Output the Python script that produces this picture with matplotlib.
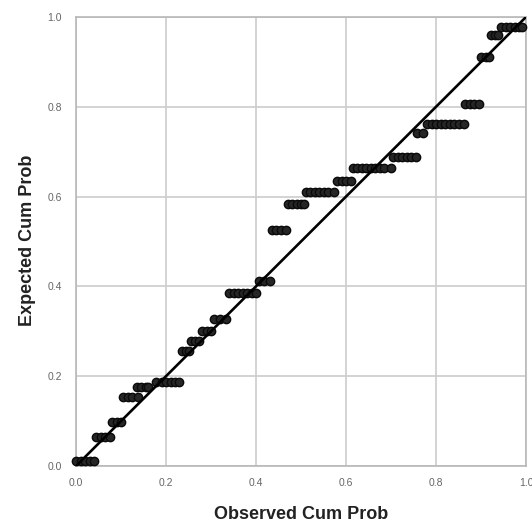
import matplotlib
matplotlib.use("Agg")
import matplotlib.pyplot as plt

# P-P plot: observed vs expected cumulative probability
obs = [0.00, 0.01, 0.02, 0.03, 0.04,
       0.045, 0.055, 0.065, 0.075,
       0.08, 0.09, 0.10,
       0.105, 0.115, 0.125, 0.138,
       0.135, 0.145, 0.155, 0.16,
       0.178, 0.19, 0.20, 0.21, 0.22, 0.229,
       0.235, 0.245, 0.25,
       0.255, 0.265, 0.273,
       0.28, 0.29, 0.30,
       0.307, 0.32, 0.333,
       0.34, 0.35, 0.36, 0.37, 0.38, 0.39, 0.40,
       0.407, 0.418, 0.43,
       0.435, 0.445, 0.455, 0.467,
       0.47, 0.48, 0.49, 0.50, 0.507,
       0.51, 0.52, 0.53, 0.54, 0.55, 0.56, 0.573,
       0.58, 0.59, 0.60, 0.61,
       0.615, 0.625, 0.635, 0.645, 0.655, 0.665, 0.675, 0.685, 0.70,
       0.705, 0.715, 0.725, 0.735, 0.745, 0.755,
       0.758, 0.77,
       0.78, 0.79, 0.80, 0.81, 0.82, 0.83, 0.84, 0.85, 0.862,
       0.864, 0.875, 0.885, 0.895,
       0.90, 0.91, 0.918,
       0.922, 0.93, 0.938,
       0.945, 0.955, 0.965, 0.975, 0.985, 0.99]
exp = [0.011] * 5 + [0.065] * 4 + [0.098] * 3 + [0.154] * 4 + [0.176] * 4 \
    + [0.187] * 6 + [0.256] * 3 + [0.278] * 3 + [0.30] * 3 + [0.327] * 3 \
    + [0.385] * 7 + [0.412] * 3 + [0.526] * 4 + [0.584] * 5 + [0.61] * 7 \
    + [0.635] * 4 + [0.664] * 9 + [0.688] * 6 + [0.742] * 2 + [0.762] * 9 \
    + [0.806] * 4 + [0.911] * 3 + [0.96] * 3 + [0.978] * 6

ticks = [0.0, 0.2, 0.4, 0.6, 0.8, 1.0]
tick_labels = ["0.0", "0.2", "0.4", "0.6", "0.8", "1.0"]

plt.rcParams["font.family"] = ["Liberation Sans", "DejaVu Sans"]

fig = plt.figure(figsize=(5.32, 5.24), dpi=100)
ax = fig.add_axes([76 / 532, 58 / 524, 450 / 532, 449 / 524])

ax.plot(obs, exp, "o", markersize=6, markerfacecolor="#262626",
        markeredgecolor="#0a0a0a", markeredgewidth=1.0, zorder=3, clip_on=False)
ax.plot([0, 1], [0, 1], color="black", linewidth=1.9, zorder=4)

ax.set_xlim(0, 1)
ax.set_ylim(0, 1)
ax.set_xticks(ticks)
ax.set_xticklabels(tick_labels)
ax.set_yticks(ticks)
ax.set_yticklabels(tick_labels)
ax.grid(True, color="#cccccc", linewidth=1.2)
ax.set_axisbelow(True)
for s in ax.spines.values():
    s.set_color("#b8b8b8")
    s.set_linewidth(1.2)
ax.tick_params(length=0, labelsize=7.5, colors="#666666")
ax.tick_params(axis="x", pad=9)
ax.tick_params(axis="y", pad=10)

ax.set_xlabel("Observed Cum Prob", fontsize=13, fontweight="bold", color="#222222", va="center")
ax.set_ylabel("Expected Cum Prob", fontsize=13, fontweight="bold", color="#222222", va="center")
ax.xaxis.set_label_coords(0.5, -0.109)
ax.yaxis.set_label_coords(-0.107, 0.503)

fig.savefig("out.png", dpi=100)
